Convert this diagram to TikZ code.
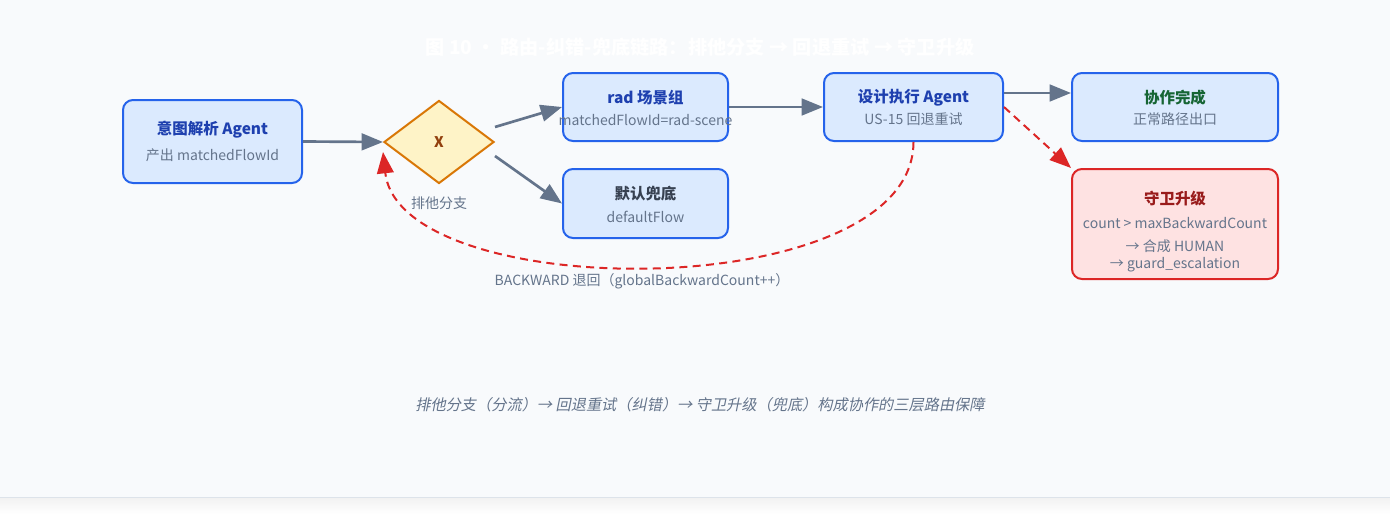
\documentclass[tikz,border=0pt]{standalone}
\usepackage{fontspec}
\setmainfont{Noto Sans CJK SC}
\newfontfamily\slantfont{Noto Sans CJK SC}[FakeSlant=0.2]
\usetikzlibrary{shapes.geometric,arrows.meta}
\definecolor{pagebg}{HTML}{F8FAFC}
\definecolor{pageline}{HTML}{DDE3EA}
\definecolor{boxblue}{HTML}{2563EB}
\definecolor{fillblue}{HTML}{DBEAFE}
\definecolor{titleblue}{HTML}{1E40AF}
\definecolor{subgrey}{HTML}{64748B}
\definecolor{edgegrey}{HTML}{64748B}
\definecolor{gateline}{HTML}{D97706}
\definecolor{gatefill}{HTML}{FEF3C7}
\definecolor{gatetext}{HTML}{92400E}
\definecolor{guardred}{HTML}{DC2626}
\definecolor{guardfill}{HTML}{FEE2E2}
\definecolor{guardtext}{HTML}{991B1B}
\definecolor{donegreen}{HTML}{166534}
\definecolor{darktext}{HTML}{374151}

\begin{document}
\begin{tikzpicture}[x=0.75pt,y=-0.75pt,
    box/.style={draw=boxblue,fill=fillblue,line width=1.5pt,rounded corners=7.5pt,inner sep=0pt},
    ttl/.style={font=\fontsize{11.6}{13}\selectfont\bfseries},
    sub/.style={font=\fontsize{10.5}{12}\selectfont,text=subgrey},
    flow/.style={draw=edgegrey,line width=2pt,-{Triangle[length=16pt,width=12.5pt]}},
    back/.style={draw=guardred,line width=1.5pt,dash pattern=on 6pt off 4pt,-{Triangle[length=16pt,width=12.5pt]}}]
    \useasboundingbox (0,0) rectangle (1390,514);
    \fill[white] (0,0) rectangle (1390,514);
    \fill[pagebg] (0,0) rectangle (1390,497);
    \shade[top color=black!5,bottom color=white] (0,498) rectangle (1390,514);
    \draw[pageline,line width=0.75pt] (0,497) -- (1390,497);

    % title
    \node[font=\fontsize{14.4}{16}\selectfont\bfseries,text=white] (title) at (700,47) {图 10 · 路由-纠错-兜底链路：排他分支 → 回退重试 → 守卫升级};

    % boxes
    \node[box,minimum width=134.25pt,minimum height=62.25pt] (intent) at (212.5,141.5) {};
    \node[ttl,text=titleblue] (intentT) at (212.5,130) {意图解析 Agent};
    \node[sub] (intentS) at (212.5,155) {产出 matchedFlowId};

    \node[diamond,draw=gateline,fill=gatefill,line width=1.5pt,minimum width=82.5pt,minimum height=62.25pt,inner sep=0pt,
          font=\fontsize{11}{12}\selectfont\bfseries,text=gatetext] (gate) at (439,142) {X};
    \node[sub] (gateL) at (439,203) {排他分支};

    \node[box,minimum width=123.75pt,minimum height=51pt] (rad) at (645.5,107) {};
    \node[ttl,text=titleblue] (radT) at (645.5,98) {rad 场景组};
    \node[sub] (radS) at (645.5,120) {matchedFlowId=rad-scene};

    \node[box,minimum width=123.75pt,minimum height=51.75pt] (dflt) at (645.5,203.5) {};
    \node[ttl,text=darktext] (dfltT) at (645.5,194) {默认兜底};
    \node[sub] (dfltS) at (645.5,217) {defaultFlow};

    \node[box,minimum width=134.25pt,minimum height=51pt] (design) at (913.5,107) {};
    \node[ttl,text=titleblue] (designT) at (913.5,98) {设计执行 Agent};
    \node[sub] (designS) at (913.5,119) {US-15 回退重试};

    \node[box,minimum width=154.5pt,minimum height=51pt] (done) at (1175,107) {};
    \node[ttl,text=donegreen] (doneT) at (1175,98) {协作完成};
    \node[sub] (doneS) at (1175,119) {正常路径出口};

    \node[box,draw=guardred,fill=guardfill,minimum width=154.5pt,minimum height=82.5pt] (guard) at (1175,224) {};
    \node[ttl,text=guardtext] (guardT) at (1175,199) {守卫升级};
    \node[sub] (guardA) at (1175,223) {count > maxBackwardCount};
    \node[sub] (guardB) at (1175,246) {→ 合成 HUMAN};
    \node[sub] (guardC) at (1175,265) {→ guard\_escalation};

    % connectors
    \draw[flow] (intent.east) -- (gate.west);
    \draw[flow] ([yshift=11.25pt]gate.east) -- (rad.west);
    \draw[flow] ([yshift=-10.5pt]gate.east) -- (dflt.west);
    \draw[flow] (rad.east) -- (design.west);
    \draw[flow] ([yshift=10.5pt]design.east) -- ([yshift=10.5pt]done.west);
    \draw[back] (design.east) -- (guard.north west);
    \draw[back] (design.south) .. controls +(0,164) and +(17,153) .. ([yshift=-7.5pt]gate.west);
    \node[sub] (backL) at (642,281) {BACKWARD 退回（globalBackwardCount++）};

    % footer
    \node[font=\fontsize{11.4}{13}\slantfont,text=subgrey] (note) at (700,405) {排他分支（分流）→ 回退重试（纠错）→ 守卫升级（兜底）构成协作的三层路由保障};
\end{tikzpicture}
\end{document}
